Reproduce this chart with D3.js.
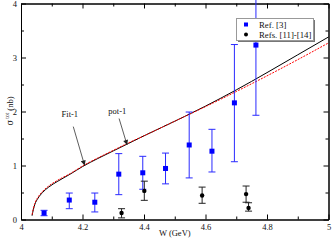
<!DOCTYPE html>
<html lang="en">
	<head>
		<meta charset="utf-8">
		<title>Cross section vs W</title>
		<script src="https://cdn.jsdelivr.net/npm/d3@7"></script>
		<style>
			body { margin: 0; background: #fff; }
			text { font-family: "Liberation Serif", "DejaVu Serif", serif; }
		</style>
	</head>
	<body>
		<script>

		/*////////////
		//  Data   //
		////////////*/

		// theory curves
		var curveW   = [4.036, 4.04, 4.045, 4.055, 4.07, 4.09, 4.12, 4.16, 4.2, 4.25, 4.3, 4.35, 4.4, 4.5, 4.6, 4.7, 4.8, 4.9, 5.0];
		var fit1     = [0.07, 0.18, 0.28, 0.39, 0.50, 0.60, 0.71, 0.84, 0.98, 1.13, 1.27, 1.41, 1.55, 1.82, 2.10, 2.40, 2.72, 3.05, 3.38];
		var pot1     = [0.09, 0.20, 0.30, 0.41, 0.52, 0.62, 0.73, 0.85, 0.99, 1.14, 1.28, 1.42, 1.55, 1.82, 2.09, 2.37, 2.66, 2.96, 3.27];

		// Ref. [3]
		var ref3W    = [4.075, 4.157, 4.24, 4.318, 4.396, 4.47, 4.547, 4.621, 4.694, 4.764];
		var ref3S    = [0.12, 0.36, 0.32, 0.84, 0.865, 0.945, 1.38, 1.265, 2.16, 3.23];
		var ref3Hi   = [0.17, 0.49, 0.49, 1.22, 1.17, 1.23, 1.99, 1.67, 3.24, 4.6];
		var ref3Lo   = [0.07, 0.20, 0.14, 0.46, 0.56, 0.66, 0.77, 0.88, 1.07, 1.93];

		// Refs. [11]-[14]
		var refsW    = [4.327, 4.401, 4.589, 4.732, 4.74];
		var refsS    = [0.12, 0.53, 0.445, 0.47, 0.215];
		var refsHi   = [0.20, 0.71, 0.60, 0.62, 0.31];
		var refsLo   = [0.03, 0.355, 0.30, 0.32, 0.155];

		// axis ticks
		var xTicks   = [4, 4.2, 4.4, 4.6, 4.8, 5];
		var xMinor   = [4.1, 4.3, 4.5, 4.7, 4.9];
		var yTicks   = [0, 1, 2, 3, 4];
		var yMinor   = [0.5, 1.5, 2.5, 3.5];

		// annotations: label, text position, arrow start, arrow tip
		var notes = [
			{ label: "Fit-1", tx: 4.132, ty: 1.89, x1: 4.170, y1: 1.72, x2: 4.207, y2: 1.00 },
			{ label: "pot-1", tx: 4.284, ty: 1.96, x1: 4.319, y1: 1.87, x2: 4.345, y2: 1.38 }
		];
		var legendLabels = ["Ref. [3]", "Refs. [11]-[14]"];

		/*//////////////////////
		//  SVG Canvas Setup  //
		//////////////////////*/

		var w = 332;
		var h = 240;

		var svg = d3.select("body")
			.append("svg")
			.attr("width", w)
			.attr("height", h);

		var x = d3.scaleLinear().domain([4, 5]).range([21, 328.5]);
		var y = d3.scaleLinear().domain([0, 4]).range([219.5, 3.5]);

		// arrow head
		svg.append("defs")
			.append("marker")
			.attr("id", "head")
			.attr("markerUnits", "userSpaceOnUse")
			.attr("viewBox", "0 0 10 10")
			.attr("refX", 10)
			.attr("refY", 5)
			.attr("markerWidth", 6)
			.attr("markerHeight", 5)
			.attr("orient", "auto")
			.append("path")
			.attr("d", "M0,0L10,5L0,10z")
			.attr("fill", "#222");

		/*//////////
		//  Axes  //
		//////////*/

		function tickFmt(d) { return d; }

		svg.append("g")
			.attr("transform", "translate(0," + y(0) + ")")
			.call(d3.axisBottom(x).tickValues(xTicks).tickSize(-5).tickSizeOuter(0).tickPadding(4).tickFormat(tickFmt));
		svg.append("g")
			.attr("transform", "translate(0," + y(0) + ")")
			.call(d3.axisBottom(x).tickValues(xMinor).tickSize(-3).tickSizeOuter(0).tickFormat(""));
		svg.append("g")
			.attr("transform", "translate(0," + y(4) + ")")
			.call(d3.axisTop(x).tickValues(xTicks).tickSize(-5).tickSizeOuter(0).tickFormat(""));
		svg.append("g")
			.attr("transform", "translate(0," + y(4) + ")")
			.call(d3.axisTop(x).tickValues(xMinor).tickSize(-3).tickSizeOuter(0).tickFormat(""));

		svg.append("g")
			.attr("transform", "translate(" + x(4) + ",0)")
			.call(d3.axisLeft(y).tickValues(yTicks).tickSize(-5).tickSizeOuter(0).tickPadding(4).tickFormat(tickFmt));
		svg.append("g")
			.attr("transform", "translate(" + x(4) + ",0)")
			.call(d3.axisLeft(y).tickValues(yMinor).tickSize(-3).tickSizeOuter(0).tickFormat(""));
		svg.append("g")
			.attr("transform", "translate(" + x(5) + ",0)")
			.call(d3.axisRight(y).tickValues(yTicks).tickSize(-5).tickSizeOuter(0).tickFormat(""));
		svg.append("g")
			.attr("transform", "translate(" + x(5) + ",0)")
			.call(d3.axisRight(y).tickValues(yMinor).tickSize(-3).tickSizeOuter(0).tickFormat(""));

		svg.selectAll(".tick text")
			.attr("font-family", "Liberation Serif")
			.attr("font-size", 8.5)
			.attr("fill", "#111");

		// axis titles
		svg.append("text")
			.attr("x", (x(4) + x(5)) / 2)
			.attr("y", 236)
			.attr("text-anchor", "middle")
			.attr("font-size", 8.5)
			.attr("fill", "#111")
			.text("W (GeV)");

		var ylab = svg.append("text")
			.attr("transform", "translate(13," + 111 + ") rotate(-90)")
			.attr("text-anchor", "middle")
			.attr("font-size", 8.5)
			.attr("fill", "#111");
		ylab.append("tspan").attr("font-family", "DejaVu Serif").text("σ");
		ylab.append("tspan").attr("font-size", 5.5).attr("dy", -4).attr("dx", 1).text("tot");
		ylab.append("tspan").attr("dy", 4).text(" (nb)");

		/*////////////
		//  Curves  //
		////////////*/

		var line = d3.line()
			.x(function(d) { return x(d[0]); })
			.y(function(d) { return y(d[1]); })
			.curve(d3.curveMonotoneX);

		svg.append("path")
			.attr("d", line(d3.zip(curveW, fit1)))
			.attr("fill", "none")
			.attr("stroke", "#000")
			.attr("stroke-width", 1);

		svg.append("path")
			.attr("d", line(d3.zip(curveW, pot1)))
			.attr("fill", "none")
			.attr("stroke", "#f00")
			.attr("stroke-width", 1)
			.attr("stroke-dasharray", "2,1.2");

		/*////////////////
		//  Data points //
		////////////////*/

		function errorBars(ws, ss, his, los, color) {
			var g = svg.append("g")
				.attr("stroke", color)
				.attr("stroke-width", 1)
				.attr("fill", "none");
			ws.forEach(function(wv, i) {
				var top = Math.min(his[i], 4.3);
				g.append("line")
					.attr("x1", x(wv)).attr("x2", x(wv))
					.attr("y1", y(top)).attr("y2", y(los[i]));
				if (his[i] <= 4) {
					g.append("line")
						.attr("x1", x(wv) - 3.5).attr("x2", x(wv) + 3.5)
						.attr("y1", y(his[i])).attr("y2", y(his[i]));
				}
				g.append("line")
					.attr("x1", x(wv) - 3.5).attr("x2", x(wv) + 3.5)
					.attr("y1", y(los[i])).attr("y2", y(los[i]));
			});
		}

		errorBars(ref3W, ref3S, ref3Hi, ref3Lo, "#2a2aff");
		errorBars(refsW, refsS, refsHi, refsLo, "#222");

		svg.selectAll("rect.ref3")
			.data(d3.zip(ref3W, ref3S))
			.enter()
			.append("rect")
			.attr("class", "ref3")
			.attr("x", function(d) { return x(d[0]) - 2.5; })
			.attr("y", function(d) { return y(d[1]) - 2.5; })
			.attr("width", 5)
			.attr("height", 5)
			.attr("fill", "#00f");

		svg.selectAll("circle.refs")
			.data(d3.zip(refsW, refsS))
			.enter()
			.append("circle")
			.attr("class", "refs")
			.attr("cx", function(d) { return x(d[0]); })
			.attr("cy", function(d) { return y(d[1]); })
			.attr("r", 2.2)
			.attr("fill", "#000");

		/*/////////////////
		//  Annotations  //
		/////////////////*/

		notes.forEach(function(n) {
			svg.append("text")
				.attr("x", x(n.tx))
				.attr("y", y(n.ty))
				.attr("font-size", 8.5)
				.attr("fill", "#111")
				.text(n.label);
			svg.append("line")
				.attr("x1", x(n.x1)).attr("y1", y(n.y1))
				.attr("x2", x(n.x2)).attr("y2", y(n.y2))
				.attr("stroke", "#333")
				.attr("stroke-width", 0.8)
				.attr("marker-end", "url(#head)");
		});

		/*////////////
		//  Legend  //
		////////////*/

		var lg = svg.append("g").attr("transform", "translate(236.5,18.5)");
		lg.append("rect")
			.attr("x", 1.5).attr("y", 1.5)
			.attr("width", 77).attr("height", 22)
			.attr("fill", "#777");
		lg.append("rect")
			.attr("width", 77).attr("height", 22)
			.attr("fill", "#fff")
			.attr("stroke", "#999")
			.attr("stroke-width", 1);
		lg.append("rect")
			.attr("x", 7.5).attr("y", 4)
			.attr("width", 4).attr("height", 4)
			.attr("fill", "#00f");
		lg.append("circle")
			.attr("cx", 9.5).attr("cy", 16)
			.attr("r", 2)
			.attr("fill", "#000");
		lg.selectAll("text")
			.data(legendLabels)
			.enter()
			.append("text")
			.attr("x", 22.5)
			.attr("y", function(d, i) { return 9.5 + i * 10; })
			.attr("font-size", 8.8)
			.attr("fill", "#111")
			.text(function(d) { return d; });

		</script>
	</body>
</html>
